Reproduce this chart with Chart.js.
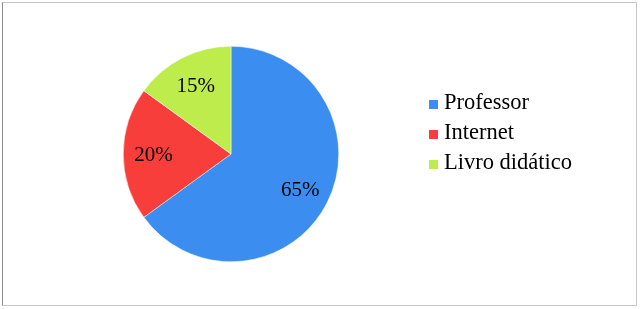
<!DOCTYPE html>
<html>
<head>
<meta charset="utf-8">
<script src="https://cdn.jsdelivr.net/npm/chart.js@4"></script>
<style>
  html, body { margin: 0; padding: 0; background: #fff; }
  #wrap { position: relative; width: 640px; height: 309px; }
  #frame {
    position: absolute; left: 2px; top: 2px; width: 633px; height: 302px;
    border: 1px solid #c6c6c6; border-left-color: #8c8c8c;
  }
  canvas { position: absolute; left: 0; top: 0; }
</style>
</head>
<body>
<div id="wrap">
  <div id="frame"></div>
  <canvas id="chart" width="640" height="309"></canvas>
</div>
<script>
const labels = ['Professor', 'Internet', 'Livro didático'];
const values = [65, 20, 15];
const colors = ['rgb(59,142,240)', 'rgb(248,62,58)', 'rgb(190,236,76)'];

const FONT = '"Liberation Serif", "Times New Roman", serif';

// percentage labels inside the slices
const sliceLabels = {
  id: 'sliceLabels',
  afterDatasetsDraw(chart) {
    const ctx = chart.ctx;
    const total = values.reduce((a, b) => a + b, 0);
    ctx.save();
    ctx.font = '21px ' + FONT;
    ctx.fillStyle = '#000';
    ctx.textAlign = 'center';
    ctx.textBaseline = 'alphabetic';
    chart.getDatasetMeta(0).data.forEach((arc, i) => {
      const mid = (arc.startAngle + arc.endAngle) / 2;
      const r = arc.outerRadius * 0.72;
      const x = arc.x + Math.cos(mid) * r;
      const y = arc.y + Math.sin(mid) * r;
      // baseline a bit below the anchor so the digits sit centred
      ctx.fillText(Math.round(values[i] / total * 100) + '%', x, y + 7);
    });
    ctx.restore();
  }
};

// legend on the right, drawn on the same canvas
const sideLegend = {
  id: 'sideLegend',
  afterDraw(chart) {
    const ctx = chart.ctx;
    ctx.save();
    ctx.font = '22.5px ' + FONT;
    ctx.textBaseline = 'alphabetic';
    ctx.textAlign = 'left';
    labels.forEach((lab, i) => {
      const base = 109 + i * 30;
      ctx.fillStyle = colors[i];
      ctx.fillRect(429, base - 9, 9, 9);
      ctx.fillStyle = '#000';
      ctx.fillText(lab, 444, base);
    });
    ctx.restore();
  }
};

new Chart(document.getElementById('chart'), {
  type: 'pie',
  data: {
    labels: labels,
    datasets: [{
      data: values,
      backgroundColor: colors,
      borderColor: '#fff',
      borderWidth: 0.5
    }]
  },
  options: {
    responsive: false,
    animation: false,
    layout: { padding: { left: 123, right: 301, top: 46, bottom: 47 } },
    plugins: {
      legend: { display: false },
      tooltip: { enabled: false }
    }
  },
  plugins: [sliceLabels, sideLegend]
});
</script>
</body>
</html>
